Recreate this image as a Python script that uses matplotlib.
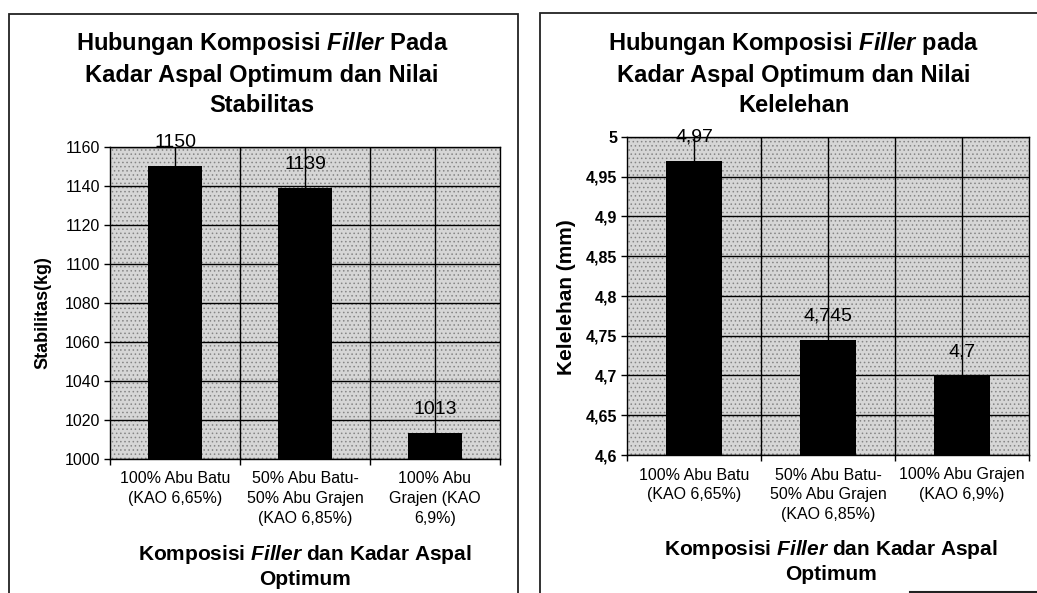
import matplotlib
matplotlib.use("Agg")
import matplotlib.pyplot as plt
from matplotlib.patches import Rectangle
from matplotlib.lines import Line2D

plt.rcParams["font.family"] = "Liberation Sans"
plt.rcParams["mathtext.fontset"] = "custom"
plt.rcParams["mathtext.rm"] = "Liberation Sans:bold"
plt.rcParams["mathtext.it"] = "Liberation Sans:italic:bold"
plt.rcParams["hatch.linewidth"] = 0.6

# Data
stab_labels = ["100% Abu Batu\n(KAO 6,65%)", "50% Abu Batu-\n50% Abu Grajen\n(KAO 6,85%)",
               "100% Abu\nGrajen (KAO\n6,9%)"]
stab_values = [1150, 1139, 1013]
stab_text = ["1150", "1139", "1013"]
stab_ticks = [1000, 1020, 1040, 1060, 1080, 1100, 1120, 1140, 1160]

flow_labels = ["100% Abu Batu\n(KAO 6,65%)", "50% Abu Batu-\n50% Abu Grajen\n(KAO 6,85%)",
               "100% Abu Grajen\n(KAO 6,9%)"]
flow_values = [4.97, 4.745, 4.7]
flow_text = ["4,97", "4,745", "4,7"]
flow_ticks = [4.6, 4.65, 4.7, 4.75, 4.8, 4.85, 4.9, 4.95, 5.0]
flow_ticklabels = ["4,6", "4,65", "4,7", "4,75", "4,8", "4,85", "4,9", "4,95", "5"]

W, H = 1037, 593
fig = plt.figure(figsize=(W / 100, H / 100), dpi=100)


def px(x, y):
    return x / W, 1 - y / H


def panel(rect, labels, values, texts, ticks, ticklabels, tick_bold):
    ax = fig.add_axes(rect)
    ax.set_facecolor("#d6d6d6")
    # stippled background like the scanned Excel chart
    ax.add_patch(Rectangle((0, 0), 1, 1, transform=ax.transAxes, facecolor="none",
                           edgecolor="#858585", hatch="....", lw=0, zorder=0))
    x = range(len(values))
    ax.bar(x, values, width=0.42, color="black", zorder=3)
    ax.set_xlim(-0.5, 2.5)
    ax.set_ylim(ticks[0], ticks[-1])
    ax.set_yticks(ticks)
    ax.set_yticklabels(ticklabels, fontsize=11.5,
                       fontweight="bold" if tick_bold else "normal")
    ax.tick_params(axis="y", length=4, width=1, pad=3)
    ax.set_xticks([-0.5, 0.5, 1.5, 2.5])
    ax.set_xticklabels([])
    ax.tick_params(axis="x", length=4, width=1)
    for t in ticks:
        ax.axhline(t, color="black", lw=1, zorder=1)
    for v in [0, 0.5, 1, 1.5, 2]:
        ax.axvline(v, color="black", lw=1, zorder=1)
    for sp in ax.spines.values():
        sp.set_color("black")
        sp.set_linewidth(1)
    for i, (v, s) in enumerate(zip(values, texts)):
        ax.annotate(s, (i, v), xytext=(0, 17), textcoords="offset points",
                    ha="center", va="center", fontsize=14, zorder=4)
    for i, lab in enumerate(labels):
        ax.annotate(lab, (i, 0), xycoords=("data", "axes fraction"),
                    xytext=(0, -9), textcoords="offset points",
                    ha="center", va="top", fontsize=11.5, linespacing=1.4)
    return ax


l0, b0 = px(110, 458.7)
ax1 = panel([l0, b0, 390 / W, 312 / H], stab_labels, stab_values, stab_text,
            stab_ticks, [str(t) for t in stab_ticks], False)
l1, b1 = px(627, 455)
ax2 = panel([l1, b1, 402 / W, 318 / H], flow_labels, flow_values, flow_text,
            flow_ticks, flow_ticklabels, True)

# titles
fig.text(*px(262, 30), "Hubungan Komposisi $\\it{Filler}$ Pada\nKadar Aspal Optimum dan Nilai\nStabilitas",
         ha="center", va="top", fontsize=17, fontweight="bold", linespacing=1.4)
fig.text(*px(794, 30), "Hubungan Komposisi $\\it{Filler}$ pada\nKadar Aspal Optimum dan Nilai\nKelelehan",
         ha="center", va="top", fontsize=17, fontweight="bold", linespacing=1.4)

# axis labels
fig.text(*px(305, 566), "Komposisi $\\it{Filler}$ dan Kadar Aspal\nOptimum",
         ha="center", va="center", fontsize=15, fontweight="bold", linespacing=1.3)
fig.text(*px(831, 561), "Komposisi $\\it{Filler}$ dan Kadar Aspal\nOptimum",
         ha="center", va="center", fontsize=15, fontweight="bold", linespacing=1.3)
fig.text(*px(43, 313), "Stabilitas(kg)", rotation=90, ha="center", va="center",
         fontsize=13, fontweight="bold")
fig.text(*px(567, 297), "Kelelehan (mm)", rotation=90, ha="center", va="center",
         fontsize=15, fontweight="bold")

# panel frames
for (x0, y0, x1, y1) in [(9, 14, 518, 600), (540, 13, 1045, 600)]:
    fig.add_artist(Rectangle(px(x0, y1), (x1 - x0) / W, (y1 - y0) / H,
                             transform=fig.transFigure, fill=False,
                             edgecolor="#222222", lw=1.3))
fig.add_artist(Line2D([910 / W, 1], [1 - 592 / H] * 2, transform=fig.transFigure,
                      color="#222222", lw=1.5))

fig.savefig("out.png", dpi=100)
